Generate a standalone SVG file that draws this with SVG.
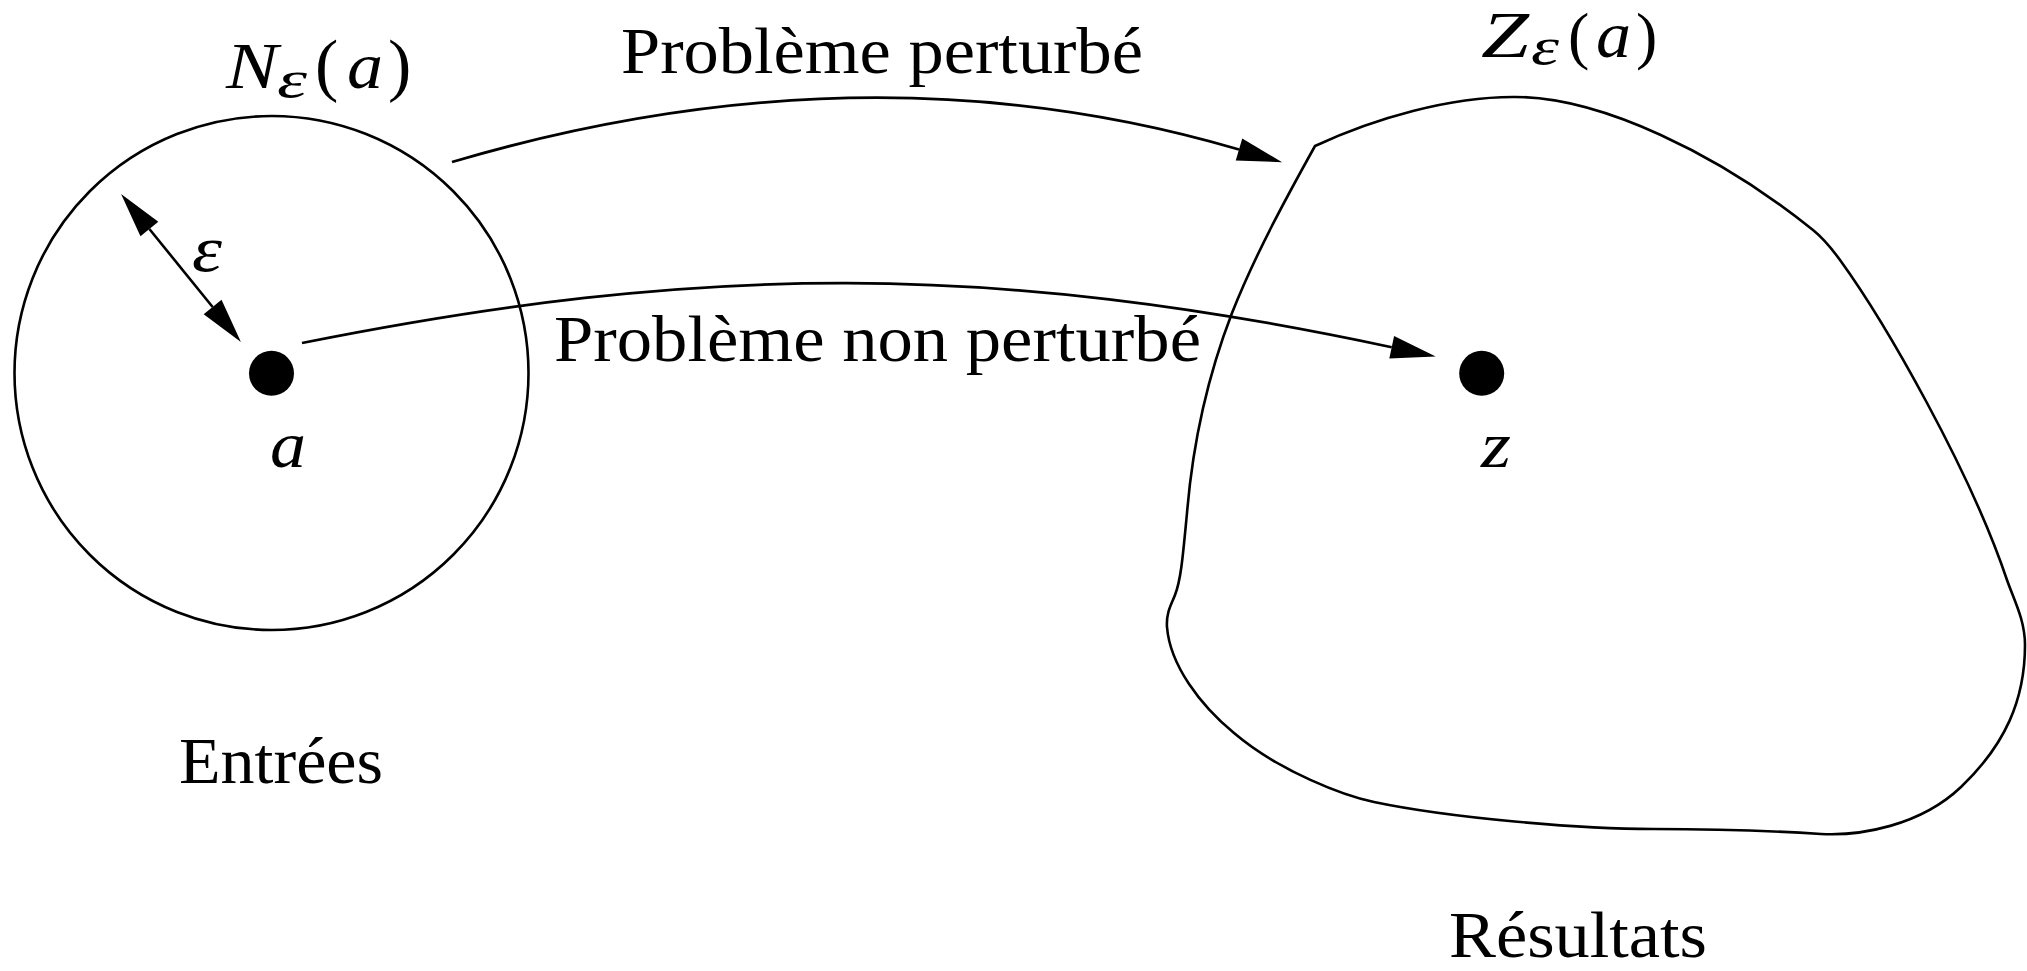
<svg xmlns="http://www.w3.org/2000/svg" width="2027" height="971" viewBox="0 0 2027 971">
<style>
  .ln { fill: none; stroke: #000; stroke-width: 2.6; }
  .ar { fill: none; stroke: #000; stroke-width: 2.7; marker-end: url(#ah); }
  .dot { fill: #000; }
  .t { font-family: "Liberation Serif", "Times New Roman", serif; font-size: 65px; fill: #000; }
  .m { font-family: "Liberation Serif", "Times New Roman", serif; font-style: italic; font-size: 65px; fill: #000; }
  .sub { font-size: 52px; }
  .par { font-family: "Liberation Serif", "Times New Roman", serif; font-size: 70px; fill: #000; }
  .parz { font-family: "Liberation Serif", "Times New Roman", serif; font-size: 64px; fill: #000; }
</style>
<defs>
  <marker id="ah" markerUnits="userSpaceOnUse" viewBox="0 -12 46 24" markerWidth="46" markerHeight="24" refX="0" refY="0" orient="auto-start-reverse" overflow="visible">
    <path d="M0,-11.5 L45,0 L0,11.5 Z" fill="#000"/>
  </marker>
</defs>
<rect width="2027" height="971" fill="#fff"/>

<g id="entrees">
  <circle class="ln" cx="271.5" cy="373" r="257"/>
  <circle class="dot" cx="271.5" cy="373.3" r="22.5"/>
  <text class="m" x="270" y="467" textLength="36" lengthAdjust="spacingAndGlyphs">a</text>
  <text class="m" x="192" y="271" textLength="30" lengthAdjust="spacingAndGlyphs">ε</text>
  <text class="m" x="226" y="88" textLength="52" lengthAdjust="spacingAndGlyphs">N</text>
  <text class="m sub" x="277" y="97" textLength="30" lengthAdjust="spacingAndGlyphs">ε</text>
  <text class="par" x="315" y="88">(</text>
  <text class="m" x="347" y="88" textLength="36" lengthAdjust="spacingAndGlyphs">a</text>
  <text class="par" x="388" y="88">)</text>
  <text class="t" x="179" y="783" textLength="204" lengthAdjust="spacingAndGlyphs">Entrées</text>
</g>

<g id="resultats">
  <path class="ln" d="M1315,146 C1375,118 1450,97 1513,97 C1600,96 1720,155 1813,230 C1823,238 1832,249 1840,260 C1885,322 1970,470 2007,580 C2014,600 2025,620 2025,645 C2025,700 2005,745 1961,787 C1920,826 1860,836 1821,834 C1790,832 1720,829 1653,829 C1580,829 1450,818 1374,802 C1345,796 1280,772 1234,733 C1200,705 1170,665 1167,627 C1166,612 1172,603 1175,595 C1181,580 1183,555 1187,513 C1193,440 1210,370 1232,313 C1255,255 1285,200 1315,146 Z"/>
  <circle class="dot" cx="1481.7" cy="373.3" r="22.5"/>
  <text class="m" x="1481" y="467" textLength="30" lengthAdjust="spacingAndGlyphs">z</text>
  <text class="m" x="1481" y="57" textLength="48" lengthAdjust="spacingAndGlyphs">Z</text>
  <text class="m sub" x="1531" y="64" textLength="28" lengthAdjust="spacingAndGlyphs">ε</text>
  <text class="parz" x="1568" y="57">(</text>
  <text class="m" x="1596" y="57" textLength="35" lengthAdjust="spacingAndGlyphs">a</text>
  <text class="parz" x="1636" y="57">)</text>
  <text class="t" x="1449" y="957" textLength="258" lengthAdjust="spacingAndGlyphs">Résultats</text>
</g>

<g id="connectors">
  <path class="ar" d="M452,162 Q866,40 1239,149.5"/>
  <path class="ar" d="M302,343 C702,263 992,262 1391.7,347.2"/>
  <path class="ln" d="M149.4,229 L212.6,307" style="marker-start:url(#ah);marker-end:url(#ah)"/>
  <text class="t" x="621" y="73" textLength="522" lengthAdjust="spacingAndGlyphs">Problème perturbé</text>
  <text class="t" x="554" y="361" textLength="647" lengthAdjust="spacingAndGlyphs">Problème non perturbé</text>
</g>
</svg>
